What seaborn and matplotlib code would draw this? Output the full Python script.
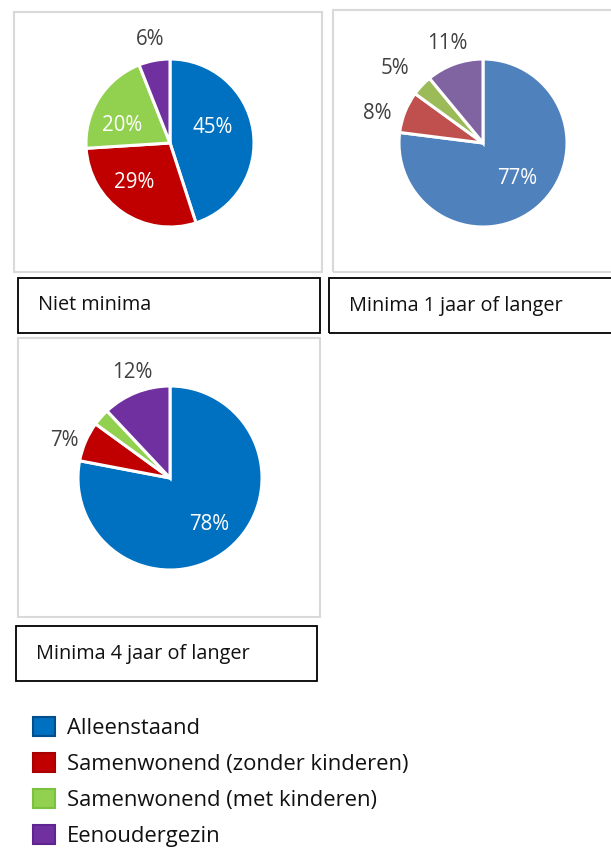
import matplotlib
matplotlib.use("Agg")
import matplotlib.pyplot as plt
from matplotlib.patches import Rectangle, Patch
import numpy as np
import seaborn as sns

sns.set_theme(style="white")
plt.rcParams['font.family'] = ['Open Sans', 'DejaVu Sans']

categories = ['Alleenstaand', 'Samenwonend (zonder kinderen)',
              'Samenwonend (met kinderen)', 'Eenoudergezin']
titles = ['Niet minima', 'Minima 1 jaar of langer', 'Minima 4 jaar of langer']
values = [
    [45, 29, 20, 6],
    [77, 8, 4, 11],
    [78, 7, 3, 12],
]
labels = [
    ['45%', '29%', '20%', '6%'],
    ['77%', '8%', '5%', '11%'],
    ['78%', '7%', '', '12%'],
]

bright = ['#0070C0', '#C00000', '#92D050', '#7030A0']
office = ['#4F81BD', '#C0504D', '#9BBB59', '#8064A2']
palettes = [bright, office, bright]

W, H = 611, 849
fig = plt.figure(figsize=(W / 100, H / 100), dpi=100)

# pie centre / radius in pixels, label radius + angle shift per slice
pies = [
    dict(cx=170, cy=143, r=84, dist=[0.54, 0.63, 0.61, 1.25], shift=[11, -8, 13, 0],
         inside=[1, 1, 1, 0]),
    dict(cx=483, cy=143, r=84, dist=[0.59, 1.31, 1.38, 1.26], shift=[3, 6, 3, 0],
         inside=[1, 0, 0, 0]),
    dict(cx=170, cy=478, r=92, dist=[0.66, 1.22, 1.3, 1.22], shift=[0, 4, 0, -2],
         inside=[1, 0, 0, 0]),
]
frames = [(14, 12, 322, 272), (333, 10, 615, 272), (18, 338, 320, 617)]
boxes = [(18, 278, 320, 333), (329, 278, 615, 333), (16, 626, 317, 681)]


def px_rect(x0, y0, x1, y1, **kw):
    return Rectangle((x0 / W, 1 - y1 / H), (x1 - x0) / W, (y1 - y0) / H,
                     transform=fig.transFigure, fill=False, **kw)


for i in range(3):
    fig.patches.append(px_rect(*frames[i], edgecolor='#D9D9D9', linewidth=1.5))
    fig.patches.append(px_rect(*boxes[i], edgecolor='black', linewidth=1.3))
    x0, y0, x1, y1 = boxes[i]
    fig.text((x0 + 20) / W, 1 - ((y0 + y1) / 2) / H, titles[i],
             fontsize=14.3, color='#111111', va='center', ha='left')

    p = pies[i]
    r = p['r']
    ax = fig.add_axes([(p['cx'] - r) / W, 1 - (p['cy'] + r) / H, 2 * r / W, 2 * r / H])
    wedges, _ = ax.pie(values[i], colors=palettes[i], startangle=90, counterclock=False,
                       wedgeprops=dict(edgecolor='white', linewidth=2.2))
    ax.set_xlim(-1, 1)
    ax.set_ylim(-1, 1)
    ax.set_aspect('equal')
    ax.axis('off')
    for w, lab, d, s, ins in zip(wedges, labels[i], p['dist'], p['shift'], p['inside']):
        if not lab:
            continue
        ang = np.deg2rad((w.theta1 + w.theta2) / 2 + s)
        ax.text(d * np.cos(ang), d * np.sin(ang), lab, ha='center', va='center',
                fontsize=14.8, color='white' if ins else '#404040', clip_on=False)

edges = ['#004F8C', '#A80000', '#7CC040', '#5E2590']
handles = [Patch(facecolor=c, edgecolor=e, linewidth=1.5) for c, e in zip(bright, edges)]
leg = fig.legend(handles, categories, loc='upper left',
                 bbox_to_anchor=(24 / W, 1 - 708 / H), frameon=False, fontsize=15.8,
                 handlelength=1.0, handleheight=1.0, handletextpad=0.55,
                 labelspacing=0.62, borderaxespad=0)
for t in leg.get_texts():
    t.set_color('#111111')

fig.savefig('out.png', dpi=100, facecolor='white')
